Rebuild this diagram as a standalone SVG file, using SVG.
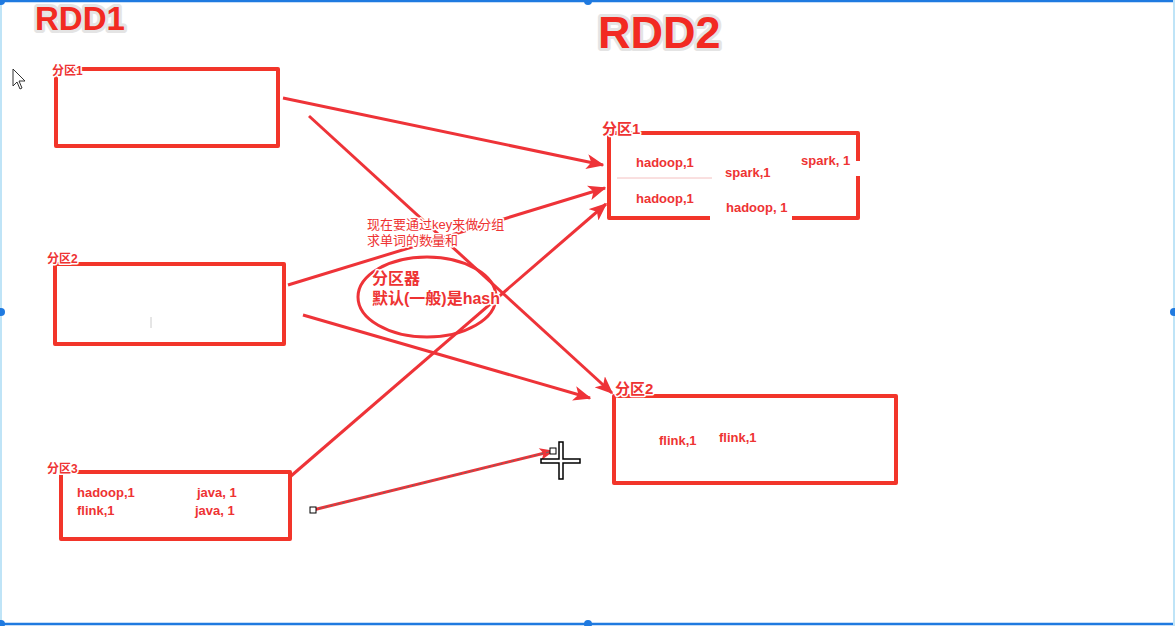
<svg xmlns="http://www.w3.org/2000/svg" width="1175" height="626" viewBox="0 0 1175 626">
<defs>
<style>
.box{fill:none;stroke:#f2352a;stroke-width:4;stroke-linejoin:round}
.conn{stroke:#ee3338;stroke-width:3;fill:none}
.t{font-family:"Liberation Sans","Noto Sans CJK SC",sans-serif;font-weight:bold;fill:#ee3333;paint-order:stroke;stroke:#ffffff;stroke-width:3;stroke-linejoin:round}
.title{font-family:"Liberation Sans",sans-serif;font-weight:bold;fill:#f22a22;paint-order:stroke;stroke:#e4e4e4;stroke-width:6;stroke-linejoin:round}
.lbl{font-size:13px}
.plbl{font-size:12px}
.plbl2{font-size:15px}
.note{font-weight:normal}
.blue{stroke:#1f7ae0;stroke-width:2.5;fill:none}
</style>
<marker id="ah" viewBox="0 0 12 10" refX="11" refY="5" markerWidth="6" markerHeight="5" orient="auto" markerUnits="strokeWidth">
<path d="M0,0 L12,5 L0,10 L3,5 z" fill="#ee3338"/>
</marker>
<marker id="ah2" viewBox="0 0 12 10" refX="11" refY="5" markerWidth="5" markerHeight="4" orient="auto" markerUnits="strokeWidth">
<path d="M0,0 L12,5 L0,10 L3,5 z" fill="#ee3338"/>
</marker>
</defs>
<rect width="1175" height="626" fill="#ffffff"/>

<!-- editor frame -->
<g id="frame">
<line class="blue" x1="0" y1="1" x2="1175" y2="1"/>
<line class="blue" x1="0" y1="624" x2="1175" y2="624"/>
<line x1="1" y1="0" x2="1" y2="626" stroke="#bfe4f7" stroke-width="2"/>
<line x1="1174" y1="0" x2="1174" y2="626" stroke="#bfe4f7" stroke-width="2"/>
<circle cx="1" cy="1" r="4" fill="#1f7ae0"/>
<circle cx="588" cy="1" r="4" fill="#1f7ae0"/>
<circle cx="1" cy="312" r="4" fill="#1f7ae0"/>
<circle cx="1174" cy="312" r="4" fill="#1f7ae0"/>
<circle cx="1" cy="624" r="4" fill="#1f7ae0"/>
<circle cx="588" cy="624" r="4" fill="#1f7ae0"/>
</g>

<text class="title" x="35" y="30" font-size="33">RDD1</text>
<text class="title" x="598" y="48" font-size="45">RDD2</text>

<!-- connectors -->
<g id="connectors">
<line class="conn" x1="283" y1="98" x2="603" y2="165" marker-end="url(#ah)"/>
<line class="conn" x1="309" y1="116" x2="612" y2="393" marker-end="url(#ah)"/>
<line class="conn" x1="288" y1="285" x2="605" y2="188" marker-end="url(#ah)"/>
<line class="conn" x1="303" y1="315" x2="590" y2="398" marker-end="url(#ah)"/>
<line class="conn" x1="291" y1="476" x2="606" y2="204" marker-end="url(#ah)"/>
<line x1="313" y1="510" x2="553" y2="451" stroke="#ee3338" stroke-width="3" marker-end="url(#ah2)"/>
<line x1="313" y1="510" x2="553" y2="451" stroke="#6a6a6a" stroke-width="1" stroke-dasharray="3 3"/>
<rect x="310" y="507" width="6" height="6" fill="#ffffff" stroke="#000" stroke-width="1"/>
<rect x="550" y="448" width="6" height="6" fill="#ffffff" stroke="#000" stroke-width="1"/>
</g>

<!-- RDD1 partitions -->
<g id="rdd1-p1">
<rect class="box" x="56" y="69" width="222" height="77"/>
<text class="t plbl" x="52" y="75">分区1</text>
</g>
<g id="rdd1-p2">
<rect class="box" x="55" y="264" width="229" height="80"/>
<text class="t plbl" x="47" y="263">分区2</text>
<line x1="151" y1="317" x2="151" y2="328" stroke="#cccccc" stroke-width="1"/>
</g>
<g id="rdd1-p3">
<rect class="box" x="61" y="472" width="229" height="67"/>
<text class="t plbl" x="47" y="473">分区3</text>
<text class="t lbl" x="77" y="497">hadoop,1</text>
<text class="t lbl" x="197" y="497">java, 1</text>
<text class="t lbl" x="77" y="515">flink,1</text>
<text class="t lbl" x="195" y="515">java, 1</text>
</g>

<!-- RDD2 partitions -->
<g id="rdd2-p1">
<rect class="box" x="609" y="133" width="249" height="85"/>
<line x1="617" y1="178" x2="712" y2="178" stroke="#f4c0c0" stroke-width="1"/>
<rect x="796" y="161" width="64" height="15" fill="#ffffff"/>
<rect x="710" y="198" width="82" height="22" fill="#ffffff"/>
<text class="t plbl2" x="602" y="134">分区1</text>
<text class="t lbl" x="636" y="167">hadoop,1</text>
<text class="t lbl" x="725" y="177">spark,1</text>
<text class="t lbl" x="801" y="165">spark, 1</text>
<text class="t lbl" x="636" y="203">hadoop,1</text>
<text class="t lbl" x="726" y="212">hadoop, 1</text>
</g>
<g id="rdd2-p2">
<rect class="box" x="614" y="396" width="282" height="87"/>
<text class="t plbl2" x="615" y="394">分区2</text>
<text class="t lbl" x="659" y="445">flink,1</text>
<text class="t lbl" x="719" y="442">flink,1</text>
</g>

<!-- partitioner note -->
<g id="partitioner">
<text class="t lbl note" x="367" y="229">现在要通过key来做分组</text>
<text class="t lbl note" x="367" y="245">求单词的数量和</text>
<ellipse cx="427" cy="297" rx="69" ry="40" fill="none" stroke="#ee3338" stroke-width="3"/>
<text class="t" x="372" y="284" font-size="16">分区器</text>
<text class="t" x="372" y="304" font-size="16">默认(一般)是hash</text>
</g>

<!-- cursors -->
<g id="cursors">
<path d="M13,69 L13,86 L17,82 L20,89 L22,88 L19,81 L25,81 Z" fill="#ffffff" stroke="#333" stroke-width="1"/>
<path d="M559,442 h4 v17 h17 v4 h-17 v16 h-4 v-16 h-18 v-4 h18 z" fill="#ffffff" stroke="#000" stroke-width="1.5"/>
</g>
</svg>
